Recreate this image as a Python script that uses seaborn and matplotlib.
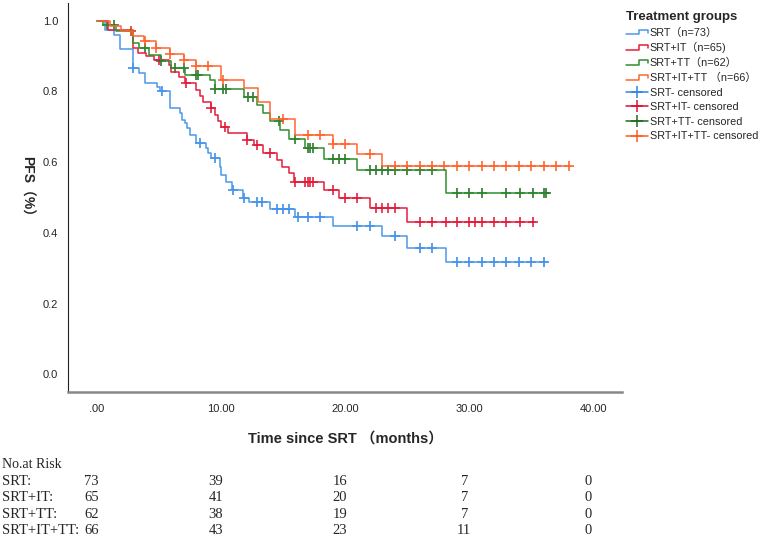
import numpy as np
import pandas as pd
import matplotlib
matplotlib.use("Agg")
import matplotlib.pyplot as plt
from matplotlib.lines import Line2D
from matplotlib.legend_handler import HandlerBase
import seaborn as sns

# ---------- DATA ----------
groups = ["SRT", "SRT+IT", "SRT+TT", "SRT+IT+TT"]

srt_times = [0, 0.65, 1.4, 1.9, 2.9, 3.4, 3.9, 4.9, 5.1, 5.9, 6.7, 6.9, 7.1, 7.3, 7.5,
             8.0, 8.8, 9.0, 9.25, 9.9, 10.0, 10.4, 10.9, 11.75, 12.3, 13.95, 16.0,
             19.0, 23.0, 25.0, 28.1, 36.3]
srt_surv = [1.0, 0.975, 0.960, 0.920, 0.866, 0.852, 0.823, 0.812, 0.800, 0.753, 0.738,
            0.720, 0.710, 0.696, 0.677, 0.654, 0.640, 0.625, 0.611, 0.587, 0.564, 0.545,
            0.521, 0.500, 0.488, 0.467, 0.444, 0.418, 0.390, 0.356, 0.319, 0.319]
srt_cens = [2.9, 5.3, 8.3, 9.5, 11.0, 11.9, 12.9, 13.3, 14.5, 15.0, 15.5, 16.2, 17.0, 18.0,
            21.0, 22.0, 24.0, 26.0, 27.0, 29.0, 30.0, 31.0, 32.0, 33.0, 34.0, 35.0, 36.0]

srtit_times = [0, 0.9, 2.9, 3.3, 4.0, 4.6, 5.8, 6.0, 6.6, 7.1, 8.0, 8.3, 8.6, 9.2, 9.5,
               9.8, 10.0, 10.6, 12.1, 12.7, 13.4, 14.5, 14.9, 15.5, 15.9, 18.3, 19.5,
               22.0, 25.0, 35.3]
srtit_surv = [1.0, 0.975, 0.923, 0.908, 0.899, 0.890, 0.875, 0.856, 0.842, 0.824, 0.805,
              0.788, 0.771, 0.753, 0.734, 0.715, 0.699, 0.682, 0.663, 0.649, 0.625, 0.606,
              0.587, 0.568, 0.544, 0.522, 0.498, 0.470, 0.430, 0.430]
srtit_cens = [5.0, 7.2, 9.2, 10.3, 12.1, 12.9, 14.0, 16.0, 16.8, 17.0, 17.2, 17.4, 19.0,
              20.0, 21.0, 22.5, 23.0, 23.5, 24.0, 26.0, 27.0, 28.1, 29.0, 30.0, 30.5,
              31.0, 32.0, 33.0, 34.1, 35.1]

srttt_times = [0, 0.5, 1.6, 2.9, 3.4, 4.2, 5.2, 6.0, 7.1, 9.1, 9.5, 11.9, 12.9, 13.4, 14.0,
               14.8, 15.5, 16.8, 18.3, 21.0, 28.1, 36.3]
srttt_surv = [1.0, 0.989, 0.972, 0.937, 0.923, 0.904, 0.885, 0.866, 0.847, 0.833, 0.807,
              0.784, 0.762, 0.740, 0.715, 0.691, 0.665, 0.640, 0.610, 0.577, 0.513, 0.513]
srttt_cens = [0.8, 1.4, 2.8, 3.9, 5.2, 6.3, 7.0, 8.0, 8.2, 9.5, 10.2, 10.4, 12.2, 12.6,
              14.7, 16.0, 17.0, 17.2, 17.4, 19.0, 19.5, 20.0, 22.0, 22.5, 23.0, 23.5,
              24.0, 25.0, 26.0, 27.0, 29.0, 30.0, 31.0, 33.0, 34.1, 35.1, 36.0, 36.2]

srtittt_times = [0, 1.1, 2.0, 2.9, 3.8, 4.8, 5.9, 7.0, 8.0, 10.0, 11.9, 13.0, 14.0, 16.0,
                 19.0, 21.0, 23.0, 38.1]
srtittt_surv = [1.0, 0.985, 0.970, 0.956, 0.942, 0.923, 0.906, 0.890, 0.871, 0.831, 0.809,
                0.769, 0.722, 0.678, 0.652, 0.623, 0.588, 0.588]
srtittt_cens = [2.8, 3.9, 4.8, 5.9, 7.0, 8.0, 9.0, 10.2, 15.0, 17.0, 18.0, 19.0, 20.0, 22.0,
                24.0, 25.0, 26.0, 27.0, 28.0, 29.0, 30.0, 31.0, 32.0, 33.0, 34.0, 35.0,
                36.0, 37.0, 38.0]

legend_labels = ["SRT（n=73）", "SRT+IT（n=65)", "SRT+TT（n=62）", "SRT+IT+TT （n=66）"]

risk_times = [0, 10, 20, 30, 40]
risk_srt = [73, 39, 16, 7, 0]
risk_srtit = [65, 41, 20, 7, 0]
risk_srttt = [62, 38, 19, 7, 0]
risk_srtittt = [66, 43, 23, 11, 0]

line_colors = ["#4A98EA", "#E61E3C", "#2E8F2E", "#FF6630"]
cens_colors = ["#2F84E4", "#DC0F30", "#1C6A1C", "#FF5A1E"]

# ---------- BUILD TABLES ----------
curves = []
marks = []
all_data = [(srt_times, srt_surv, srt_cens), (srtit_times, srtit_surv, srtit_cens),
            (srttt_times, srttt_surv, srttt_cens), (srtittt_times, srtittt_surv, srtittt_cens)]
for g, (t, s, c) in zip(groups, all_data):
    curves.append(pd.DataFrame({"time": t, "surv": s, "group": g}))
    idx = np.searchsorted(t, c, side="right") - 1
    marks.append(pd.DataFrame({"time": c, "surv": np.array(s)[idx], "group": g}))
curves = pd.concat(curves, ignore_index=True)
marks = pd.concat(marks, ignore_index=True)

# ---------- PLOT ----------
sns.set_style("white")
plt.rcParams["font.family"] = ["Liberation Sans", "Noto Sans CJK SC", "DejaVu Sans"]

fig = plt.figure(figsize=(7.62, 5.38), dpi=100)
ax = fig.add_axes([68 / 762, 1 - 392 / 538, (622 - 68) / 762, (392 - 3) / 538])

for i, g in enumerate(groups):
    sns.lineplot(data=curves[curves.group == g], x="time", y="surv", ax=ax,
                 color=line_colors[i], lw=1.1, drawstyle="steps-post",
                 estimator=None, sort=False, legend=False)
for i, g in enumerate(groups):
    sns.scatterplot(data=marks[marks.group == g], x="time", y="surv", ax=ax,
                    marker="+", s=60, linewidth=1.1, color=cens_colors[i], legend=False)

ax.set_xlim(-2.3, 42.3)
ax.set_ylim(-0.05, 1.05)
ax.set_xticks(risk_times)
ax.set_xticklabels([".00", "10.00", "20.00", "30.00", "40.00"])
ax.set_yticks([0, 0.2, 0.4, 0.6, 0.8, 1.0])
ax.set_yticklabels(["0.0", "0.2", "0.4", "0.6", "0.8", "1.0"])
ax.tick_params(axis="both", length=0, labelsize=8, pad=7)
ax.tick_params(axis="x", pad=9)
for sp in ["top", "right"]:
    ax.spines[sp].set_visible(False)
ax.spines["left"].set_color("#222222")
ax.spines["left"].set_linewidth(0.8)
ax.spines["bottom"].set_color("#888888")
ax.spines["bottom"].set_linewidth(1.8)

ax.set_xlabel("Time since SRT （months）", fontsize=10.5, fontweight="bold", labelpad=12)
ax.set_ylabel("")
fig.text(27 / 762, 1 - 190 / 538, "PFS（%）", rotation=-90, fontsize=10,
         fontweight="bold", ha="center", va="center")


# legend with step glyphs
class StepHandler(HandlerBase):
    def create_artists(self, legend, orig, x0, y0, w, h, fontsize, trans):
        xs = [x0, x0 + 0.6 * w, x0 + 0.6 * w, x0 + w, x0 + w]
        ys = [y0 + 0.15 * h, y0 + 0.15 * h, y0 + 0.8 * h, y0 + 0.8 * h, y0 + 0.4 * h]
        ln = Line2D(xs, ys, color=orig.get_color(), lw=1.1, transform=trans)
        return [ln]


handles = [Line2D([], [], color=c) for c in line_colors]
handles += [Line2D([], [], color=c, lw=1.1, marker="+", markersize=9, mew=1.1)
            for c in cens_colors]
labels = legend_labels + [g + "- censored" for g in groups]
hmap = {h: StepHandler() for h in handles[:4]}
leg = fig.legend(handles, labels, handler_map=hmap, loc="upper left",
                 bbox_to_anchor=(616 / 762, 1 - 1 / 538), frameon=False, fontsize=7.8,
                 handlelength=2.05, handletextpad=0.15, labelspacing=0.42,
                 title="Treatment groups", alignment="left",
                 title_fontproperties={"weight": "bold", "size": 9.5})

# number at risk table
fig.text(0.002, 1 - 465 / 538, "No.at Risk", fontsize=10, family="Liberation Serif",
         va="center")
row_names = ["SRT:", "SRT+IT:", "SRT+TT:", "SRT+IT+TT:"]
risk_rows = [risk_srt, risk_srtit, risk_srttt, risk_srtittt]
trans = matplotlib.transforms.blended_transform_factory(ax.transData, fig.transFigure)
for r, (name, vals) in enumerate(zip(row_names, risk_rows)):
    yy = 1 - (481.5 + r * 16.3) / 538
    fig.text(0.002, yy, name, fontsize=10.5, family="Liberation Serif", va="center")
    for t, v in zip(risk_times, vals):
        ax.text(t - 0.4, yy, str(v), transform=trans, fontsize=10.5,
                family="Liberation Serif", ha="center", va="center", clip_on=False)

fig.savefig("out.png", dpi=100)
